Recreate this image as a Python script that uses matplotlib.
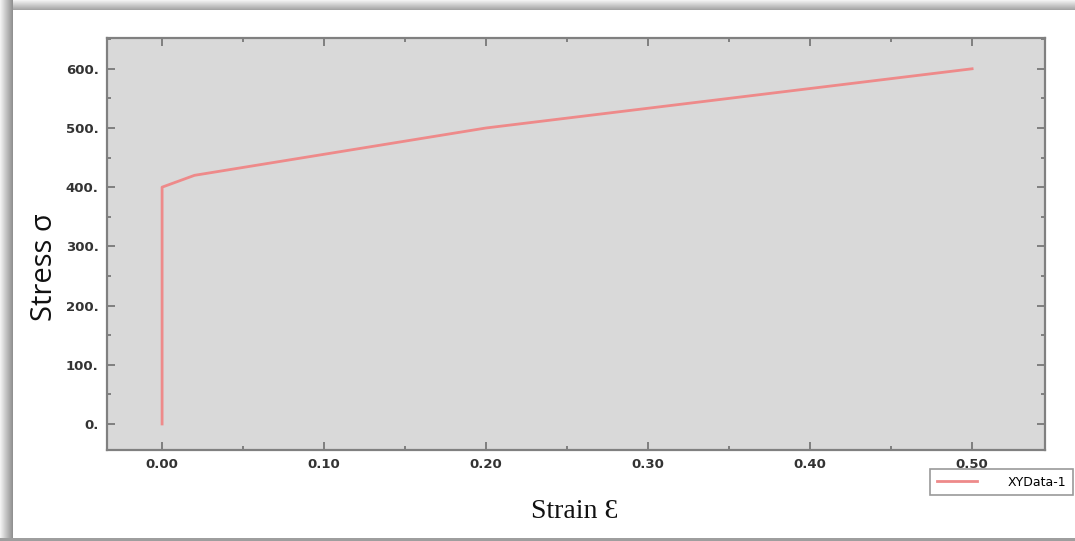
import numpy as np
import matplotlib
matplotlib.use("Agg")
import matplotlib.pyplot as plt
from matplotlib.ticker import FixedLocator, MultipleLocator, FuncFormatter

# Data
strain = [0.0, 0.0, 0.02, 0.20, 0.50]
stress = [0.0, 400.0, 420.0, 500.0, 600.0]
series_label = "XYData-1"
x_ticks = [0.00, 0.10, 0.20, 0.30, 0.40, 0.50]
y_ticks = [0, 100, 200, 300, 400, 500, 600]

W, H = 1075, 541
fig = plt.figure(figsize=(W / 100, H / 100), dpi=100)
fig.patch.set_facecolor("white")

# Background frame with shadow gradient
bg = fig.add_axes([0, 0, 1, 1], zorder=-10)
img = np.ones((H, W, 3))
for xx in range(13):
    v = 0.95 - 0.38 * (xx / 12.0)
    img[:, xx, :] = v
for yy in range(10):
    v = 0.95 - 0.30 * (yy / 9.0)
    img[yy, 13:, :] = np.minimum(img[yy, 13:, :], v)
img[538:, :, :] = 0.62
bg.imshow(img, extent=[0, W, H, 0], aspect="auto", interpolation="nearest")
bg.set_xlim(0, W)
bg.set_ylim(H, 0)
bg.axis("off")

ax = fig.add_axes([107 / W, 1 - 450 / H, (1045 - 107) / W, (450 - 38) / H])
ax.set_facecolor("#d9d9d9")
ax.plot(strain, stress, color="#ee8a8a", lw=2.0, label=series_label)

ax.set_xlim(-0.034, 0.545)
ax.set_ylim(-44, 652)
ax.xaxis.set_major_locator(FixedLocator(x_ticks))
ax.xaxis.set_minor_locator(MultipleLocator(0.05))
ax.yaxis.set_major_locator(FixedLocator(y_ticks))
ax.yaxis.set_minor_locator(MultipleLocator(50))
ax.xaxis.set_major_formatter(FuncFormatter(lambda v, p: f"{v:.2f}"))
ax.yaxis.set_major_formatter(FuncFormatter(lambda v, p: f"{v:.0f}."))

ax.tick_params(which="both", direction="in", top=True, right=True, color="#707070", width=1.2)
ax.tick_params(which="major", length=6, labelsize=9.5, labelcolor="#333333", pad=6)
ax.tick_params(which="minor", length=3)
for lab in ax.get_xticklabels() + ax.get_yticklabels():
    lab.set_fontweight("bold")
for s in ax.spines.values():
    s.set_color("#808080")
    s.set_linewidth(1.6)

fig.text(45 / W, 1 - 267 / H, "Stress σ", rotation=90, ha="center", va="center",
         fontsize=21, family=["Open Sans", "DejaVu Sans"], color="#111111")
fig.text(575 / W, 1 - 512 / H, "Strain Ɛ", ha="center", va="center",
         fontsize=20, family=["Liberation Serif", "DejaVu Serif"], color="#111111")

leg = fig.legend(loc="upper left", bbox_to_anchor=(924 / W, 1 - 463 / H),
                 fontsize=9, frameon=True, fancybox=False, handlelength=3.2,
                 borderpad=0.5, handletextpad=2.5)
leg.get_frame().set_edgecolor("#808080")
leg.get_frame().set_linewidth(1.2)

fig.savefig("out.png", dpi=100)
